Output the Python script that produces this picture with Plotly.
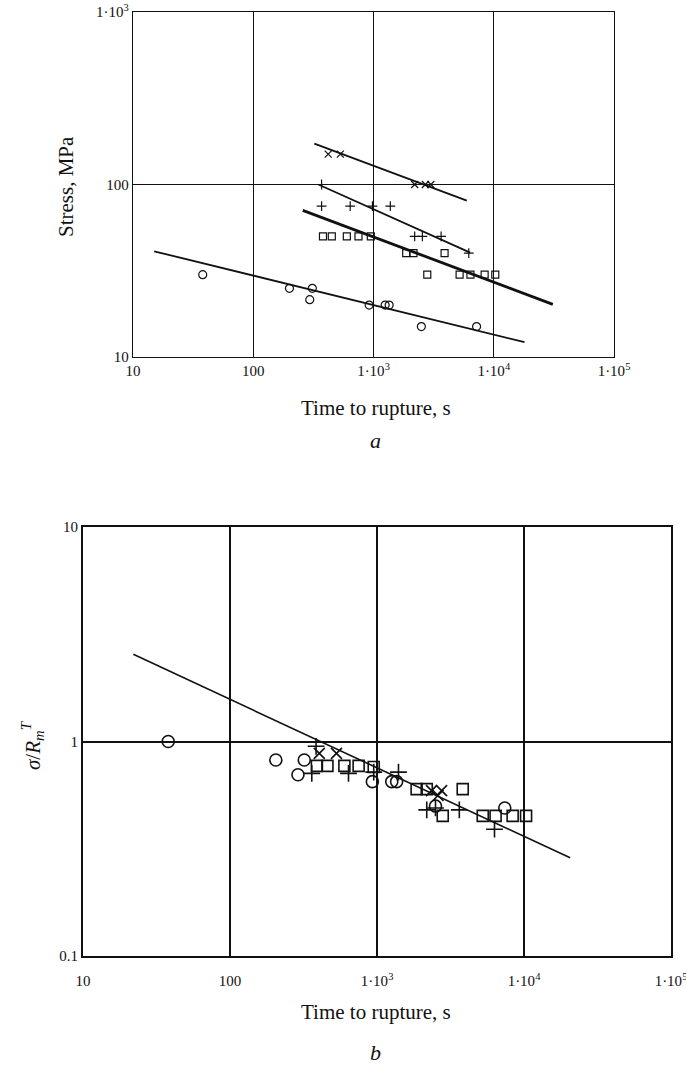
import plotly.graph_objects as go

W, H = 686, 1066

# ---------------- data: chart a (stress vs time to rupture) ----------------
a_circle_t = [38, 200, 310, 295, 920, 1250, 1350, 2500, 7200]
a_circle_s = [30, 25, 25, 21.5, 20, 20, 20, 15, 15]
a_square_t = [380, 450, 600, 750, 950, 1870, 2150, 3900, 2800, 5200, 6400, 8400, 10300]
a_square_s = [50, 50, 50, 50, 50, 40, 40, 40, 30, 30, 30, 30, 30]
a_plus_t = [370, 370, 640, 980, 1380, 2200, 2550, 3650, 6200]
a_plus_s = [100, 75, 75, 75, 75, 50, 50, 50, 40]
a_x_t = [420, 530, 2200, 2700, 3000]
a_x_s = [150, 150, 100, 100, 100]

a_fit_x_t = [322, 5970]
a_fit_x_s = [172.6, 80.7]
a_fit_plus_t = [348, 6370]
a_fit_plus_s = [100, 40.3]
a_fit_square_t = [258, 31000]
a_fit_square_s = [70.8, 20.2]
a_fit_circle_t = [15, 18000]
a_fit_circle_s = [41, 12.2]

# ---------------- data: chart b (normalised stress) ----------------
b_circle_t = [38, 205, 320, 290, 930, 1260, 1360, 2500, 7400]
b_circle_r = [1.0, 0.82, 0.82, 0.70, 0.65, 0.65, 0.65, 0.50, 0.49]
b_square_t = [390, 460, 600, 750, 950, 1860, 2180, 3830, 2800, 5240, 6410, 8370, 10330]
b_square_r = [0.77, 0.77, 0.77, 0.77, 0.76, 0.60, 0.60, 0.60, 0.45, 0.45, 0.45, 0.45, 0.45]
b_plus_t = [385, 360, 640, 950, 1400, 2180, 2500, 3630, 6300]
b_plus_r = [0.95, 0.71, 0.71, 0.72, 0.72, 0.48, 0.49, 0.48, 0.39]
b_x_t = [405, 530, 2350, 2600, 2750]
b_x_r = [0.88, 0.88, 0.59, 0.56, 0.59]

b_fit_t = [22, 20600]
b_fit_r = [2.55, 0.287]

x_tickvals = [10, 100, 1000, 10000, 100000]
x_ticktext = ["10", "100", "1·10<sup>3</sup>", "1·10<sup>4</sup>", "1·10<sup>5</sup>"]
a_y_tickvals = [10, 100, 1000]
a_y_ticktext = ["10", "100", "1·10<sup>3</sup>"]
b_y_tickvals = [0.1, 1, 10]
b_y_ticktext = ["0.1", "1", "10"]

FONT = "Liberation Serif"

fig = go.Figure()

def line(x, y, w, xa, ya):
    fig.add_trace(go.Scatter(x=x, y=y, mode="lines", line=dict(color="#111", width=w),
                             xaxis=xa, yaxis=ya, showlegend=False, hoverinfo="skip"))

def pts(x, y, sym, size, lw, xa, ya):
    fig.add_trace(go.Scatter(x=x, y=y, mode="markers",
                             marker=dict(symbol=sym, size=size, color="#111",
                                         line=dict(color="#111", width=lw)),
                             xaxis=xa, yaxis=ya, showlegend=False))

# ---- chart a ----
line(a_fit_x_t, a_fit_x_s, 1.8, "x", "y")
line(a_fit_plus_t, a_fit_plus_s, 1.8, "x", "y")
line(a_fit_square_t, a_fit_square_s, 2.8, "x", "y")
line(a_fit_circle_t, a_fit_circle_s, 1.8, "x", "y")
pts(a_circle_t, a_circle_s, "circle-open", 8, 1.2, "x", "y")
pts(a_square_t, a_square_s, "square-open", 7, 1.2, "x", "y")
pts(a_plus_t, a_plus_s, "cross-thin-open", 7, 1.2, "x", "y")
pts(a_x_t, a_x_s, "x-thin-open", 7, 1.2, "x", "y")

# ---- chart b ----
line(b_fit_t, b_fit_r, 1.6, "x2", "y2")
pts(b_circle_t, b_circle_r, "circle-open", 12, 1.6, "x2", "y2")
pts(b_square_t, b_square_r, "square-open", 11, 1.6, "x2", "y2")
pts(b_plus_t, b_plus_r, "cross-thin-open", 12, 1.6, "x2", "y2")
pts(b_x_t, b_x_r, "x-thin-open", 11, 1.6, "x2", "y2")

def px(v):
    return v / W

def py(v):
    return 1 - v / H

axis_common = dict(type="log", showgrid=True, gridcolor="#111", zeroline=False,
                   showline=True, linecolor="#111", mirror=True, ticks="",
                   ticklabeloverflow="allow",
                   tickfont=dict(family=FONT, size=15, color="#111"))

fig.update_layout(
    width=W, height=H,
    margin=dict(l=0, r=0, t=0, b=0, autoexpand=False),
    paper_bgcolor="white", plot_bgcolor="white",
    xaxis=dict(domain=[px(133), px(614)], range=[1, 5], anchor="y",
               tickvals=x_tickvals, ticktext=x_ticktext, gridwidth=1.2, linewidth=1.4,
               **axis_common),
    yaxis=dict(domain=[py(357), py(12)], range=[1, 3], anchor="x",
               tickvals=a_y_tickvals, ticktext=a_y_ticktext, gridwidth=1.2, linewidth=1.4,
               **axis_common),
    xaxis2=dict(domain=[px(83), px(671)], range=[1, 5], anchor="y2",
                tickvals=x_tickvals, ticktext=x_ticktext, gridwidth=2, linewidth=2,
                ticklabelstandoff=10, **axis_common),
    yaxis2=dict(domain=[py(956), py(527)], range=[-1, 1], anchor="x2",
                tickvals=b_y_tickvals, ticktext=b_y_ticktext, gridwidth=2, linewidth=2,
                **axis_common),
)

def ann(text, x, y, size, angle=0):
    fig.add_annotation(text=text, x=px(x), y=py(y), xref="paper", yref="paper",
                       showarrow=False, textangle=angle, xanchor="center", yanchor="middle",
                       font=dict(family=FONT, size=size, color="#111"))

ann("Time to rupture, s", 376, 408, 21)
ann("<i>a</i>", 376, 440, 22)
ann("Stress, MPa", 66, 187, 21, -90)
ann("Time to rupture, s", 376, 1012, 21)
ann("<i>b</i>", 376, 1052, 22)
ann("<i>σ</i>/<i>R</i><sub><i>m</i></sub><sup><i>T</i></sup>", 33, 745, 21, -90)

fig.write_html("out.html", config={"displayModeBar": False},
               post_script="document.body.style.margin='0';document.body.style.overflow='hidden';")
